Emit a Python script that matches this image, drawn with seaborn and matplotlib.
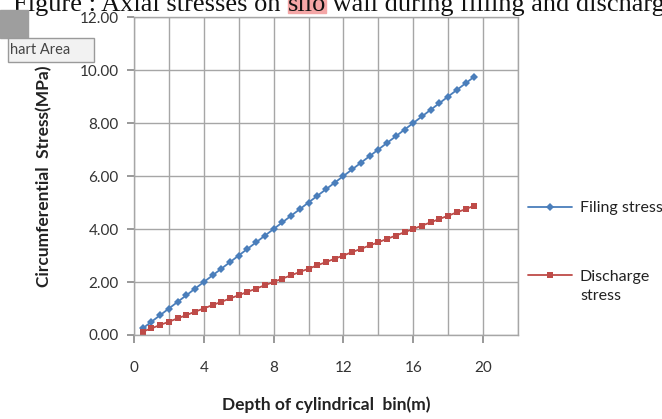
import matplotlib
matplotlib.use("Agg")
import numpy as np
import matplotlib.pyplot as plt
import matplotlib.patches as mpatches
from matplotlib.legend_handler import HandlerLine2D
import seaborn as sns
import pandas as pd

depth = [0.5, 1.0, 1.5, 2.0, 2.5, 3.0, 3.5, 4.0, 4.5, 5.0, 5.5, 6.0, 6.5,
         7.0, 7.5, 8.0, 8.5, 9.0, 9.5, 10.0, 10.5, 11.0, 11.5, 12.0, 12.5,
         13.0, 13.5, 14.0, 14.5, 15.0, 15.5, 16.0, 16.5, 17.0, 17.5, 18.0,
         18.5, 19.0, 19.5]
filing = [0.25, 0.50, 0.75, 1.00, 1.25, 1.50, 1.75, 2.00, 2.25, 2.50, 2.75,
          3.00, 3.25, 3.50, 3.75, 4.00, 4.25, 4.50, 4.75, 5.00, 5.25, 5.50,
          5.75, 6.00, 6.25, 6.50, 6.75, 7.00, 7.25, 7.50, 7.75, 8.00, 8.25,
          8.50, 8.75, 9.00, 9.25, 9.50, 9.75]
discharge = [0.13, 0.25, 0.38, 0.50, 0.63, 0.75, 0.88, 1.00, 1.13, 1.25,
             1.38, 1.50, 1.63, 1.75, 1.88, 2.00, 2.13, 2.25, 2.38, 2.50,
             2.63, 2.75, 2.88, 3.00, 3.13, 3.25, 3.38, 3.50, 3.63, 3.75,
             3.88, 4.00, 4.13, 4.25, 4.38, 4.50, 4.63, 4.75, 4.88]
series_names = ["Filing stress", "Discharge\nstress"]
x_ticks = [0, 4, 8, 12, 16, 20]
y_ticks = [0, 2, 4, 6, 8, 10, 12]
caption_parts = ["Figure : Axial stresses on ", "silo",
                 " wall during filling and discharge"]

sns.set_theme(style="white")
plt.rcParams['font.family'] = ['Lato', 'DejaVu Sans']

df = pd.DataFrame({
    "depth": depth * 2,
    "stress": filing + discharge,
    "series": [series_names[0]] * len(depth) + [series_names[1]] * len(depth),
})

W, H = 662, 419
fig = plt.figure(figsize=(W / 100, H / 100), dpi=100)
ax = fig.add_axes([134 / W, 1 - 335 / H, (518 - 134) / W, (335 - 17) / H])

sns.lineplot(data=df, x="depth", y="stress", hue="series", style="series",
             palette=["#4A7EBB", "#BE4B48"], markers=["D", "s"], dashes=False,
             markersize=5, linewidth=1.3, markeredgewidth=0, ax=ax, legend=True)
for ln in ax.get_lines():
    if ln.get_marker() == "D":
        ln.set_markersize(3.6)

ax.set_xlim(0, 22)
ax.set_ylim(0, 12)
ax.set_xticks(x_ticks)
ax.set_xticks(list(range(0, 23, 2)), minor=True)
ax.set_yticks(y_ticks)
ax.set_yticklabels([f"{v:.2f}" for v in y_ticks])
ax.grid(True, which="both", color="#A6A6A6", linewidth=1.0)
ax.set_axisbelow(True)
for s in ax.spines.values():
    s.set_color("#A6A6A6")
    s.set_linewidth(1.0)
ax.tick_params(axis="x", which="major", length=6, color="#8C8C8C", direction="out",
               labelsize=11, labelcolor="#333333", pad=13, bottom=True)
ax.tick_params(axis="x", which="minor", length=0)
ax.tick_params(axis="y", length=5, color="#8C8C8C", direction="out",
               labelsize=11, labelcolor="#333333", pad=6, left=True)

ax.set_xlabel("Depth of cylindrical  bin(m)", fontsize=12.5, fontweight="bold",
              color="#222222", labelpad=15)
ax.set_ylabel("Circumferential  Stress(MPa)", fontsize=12.5, fontweight="bold",
              color="#222222", labelpad=20)


class OffsetHandler(HandlerLine2D):
    def __init__(self, dy=0.0, **kw):
        super().__init__(**kw)
        self.dy = dy

    def create_artists(self, legend, orig_handle, xdescent, ydescent, width,
                       height, fontsize, trans):
        arts = super().create_artists(legend, orig_handle, xdescent, ydescent,
                                      width, height, fontsize, trans)
        for a in arts:
            a.set_ydata(np.asarray(a.get_ydata(), dtype=float) + self.dy)
        return arts


handles, labels = ax.get_legend_handles_labels()
if ax.get_legend() is not None:
    ax.get_legend().remove()
leg = ax.legend(handles, labels, loc="upper left",
                bbox_to_anchor=((528 - 134) / 384, (335 - 201) / 318),
                frameon=False, fontsize=11.5, handlelength=2.75,
                handletextpad=0.5, labelspacing=3.45, borderpad=0,
                borderaxespad=0,
                handler_map={handles[1]: OffsetHandler(dy=8.3)})
for t in leg.get_texts():
    t.set_color("#222222")
    t.set_linespacing(1.45)

# clipped caption above the chart
fig.canvas.draw()
renderer = fig.canvas.get_renderer()
serif = ["Liberation Serif", "DejaVu Serif"]
base_y = 1 - 11 / H
cap_size = 19
probe = fig.text(0, 0, caption_parts[0], family=serif, fontsize=cap_size)
w0 = probe.get_window_extent(renderer).width
probe.remove()
probe = fig.text(0, 0, "Figure : ", family=serif, fontsize=cap_size)
wf = probe.get_window_extent(renderer).width
probe.remove()
x0 = 103 - wf
fig.text(x0 / W, base_y, caption_parts[0], family=serif, fontsize=cap_size,
         va="baseline", ha="left", color="#111111", zorder=2)
x1 = x0 + w0
t1 = fig.text(x1 / W, base_y, caption_parts[1], family=serif, fontsize=cap_size,
              va="baseline", ha="left", color="#111111", zorder=2)
w1 = t1.get_window_extent(renderer).width
fig.patches.append(mpatches.Rectangle((x1 / W, 1 - 13 / H), w1 / W, 13 / H,
                                      transform=fig.transFigure, color="#F4A6A6",
                                      zorder=1))
fig.text((x1 + w1) / W, base_y, caption_parts[2], family=serif,
         fontsize=cap_size, va="baseline", ha="left", color="#111111", zorder=2)

# grey block and tooltip at top left
fig.patches.append(mpatches.Rectangle((0, 1 - 38 / H), 28 / W, 28 / H,
                                      transform=fig.transFigure, color="#9E9E9E",
                                      zorder=3))
fig.patches.append(mpatches.FancyBboxPatch((8 / W, 1 - 62 / H), 86 / W, 24 / H,
                                           boxstyle="square,pad=0",
                                           transform=fig.transFigure,
                                           facecolor="#F2F2F2", edgecolor="#9A9A9A",
                                           linewidth=1.0, zorder=4))
fig.text(10 / W, 1 - 50 / H, "hart Area", fontsize=10.5, color="#444444",
         va="center", ha="left", zorder=5)

fig.savefig("out.png", dpi=100)
